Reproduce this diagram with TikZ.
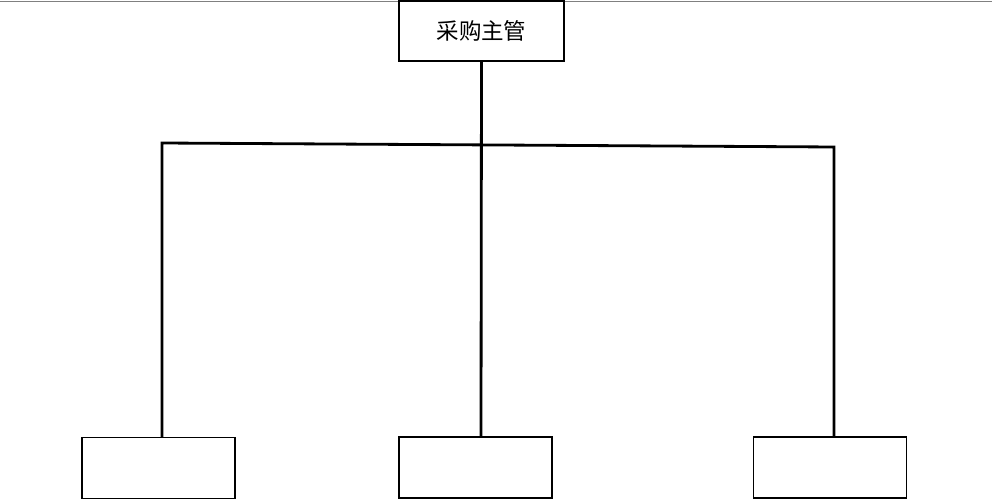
\documentclass[tikz,border=0pt]{standalone}
\usepackage{fontspec}
\newfontfamily\cjk{Noto Sans CJK SC}
\usetikzlibrary{positioning}

\begin{document}
\begin{tikzpicture}[
    x=0.02cm, y=-0.02cm,
    box/.style={rectangle, draw, line width=0.8pt, minimum width=3.06cm, minimum height=1.22cm, inner sep=0pt},
    link/.style={line width=1.6pt}
]
    \useasboundingbox (0,0) rectangle (992,500);
    \draw[gray, line width=0.5pt] (0,1) -- (992,1);

    \node[box, minimum width=3.3cm, minimum height=1.2cm, font=\cjk\fontsize{12.8}{15}\selectfont] (head) at (481.5,31) {采购主管};

    \node[box] (left) at (158.5,468) {};
    \node[box] (mid) at (475.5,467.5) {};
    \node[box] (right) at (830,467.5) {};

    \coordinate (jl) at (162,143);
    \coordinate (jm) at (481,145);
    \coordinate (jr) at (834,147);

    \draw[link] (jl |- left.north) -- (jl) -- (jr) -- (jr |- right.north);
    \draw[link] (head.south) -- (jm |- mid.north);

\end{tikzpicture}
\end{document}
